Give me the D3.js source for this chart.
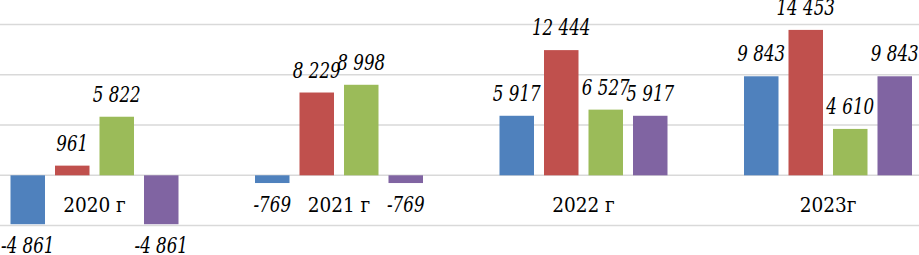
<!DOCTYPE html>
<html>
<head>
<meta charset="utf-8">
<script src="https://cdn.jsdelivr.net/npm/d3@7/dist/d3.min.js"></script>
</head>
<body style="margin:0;background:#fff">
<svg id="chart" width="919" height="255" style="display:block"></svg>
<script>
const categories = ["2020 г", "2021 г", "2022 г", "2023г"];
const seriesNames = ["s1", "s2", "s3", "s4"];
const seriesColors = ["#4f81bd", "#c0504d", "#9bbb59", "#8064a2"];
const s1 = [-4861, -769, 5917, 9843];
const s2 = [961, 8229, 12444, 14453];
const s3 = [5822, 8998, 6527, 4610];
const s4 = [-4861, -769, 5917, 9843];
const gridTicks = [-5000, 0, 5000, 10000, 15000];

const seriesValues = [s1, s2, s3, s4];
const FONT = '"DejaVu Serif"';
const fmt = v => {
  const s = d3.format(",")(Math.abs(v)).replace(/,/g, " ");
  return (v < 0 ? "-" : "") + s;
};

const svg = d3.select("#chart");
const W = 919;

const y = d3.scaleLinear().domain([-5000, 15000]).range([225.6, 24.4]);
const x0 = d3.scaleBand().domain(categories).range([-27.75, 950.25]).padding(0);
const x1 = d3.scaleBand().domain(seriesNames).range([38.25, 206.25]).paddingInner(0.2247).paddingOuter(0);

svg.append("g").selectAll("line").data(gridTicks).join("line")
  .attr("x1", 0).attr("x2", W)
  .attr("y1", d => y(d)).attr("y2", d => y(d))
  .attr("stroke", "#d9d9d9").attr("stroke-width", 1.5);

const data = [];
categories.forEach((c, i) => {
  seriesNames.forEach((s, j) => {
    data.push({cat: c, ser: s, v: seriesValues[j][i], color: seriesColors[j]});
  });
});

const g = svg.append("g");
g.selectAll("rect").data(data).join("rect")
  .attr("x", d => x0(d.cat) + x1(d.ser))
  .attr("width", x1.bandwidth())
  .attr("y", d => Math.min(y(d.v), y(0)))
  .attr("height", d => Math.abs(y(d.v) - y(0)))
  .attr("fill", d => d.color);

function squeeze(sel, k) {
  sel.each(function() {
    const len = this.getComputedTextLength();
    if (len > 0) {
      d3.select(this).attr("textLength", len * k).attr("lengthAdjust", "spacingAndGlyphs");
    }
  });
}

svg.append("g").selectAll("text").data(data).join("text")
  .attr("x", d => x0(d.cat) + x1(d.ser) + x1.bandwidth() / 2)
  .attr("y", d => d.v >= 0 ? y(d.v) - 15 : y(d.v) + 29)
  .attr("text-anchor", "middle")
  .style("font-family", FONT)
  .style("font-style", "italic")
  .style("font-size", "22px")
  .attr("fill", "#000")
  .text(d => fmt(d.v))
  .call(squeeze, 0.76);

svg.append("g").selectAll("text").data(categories).join("text")
  .attr("x", d => x0(d) + x0.bandwidth() / 2)
  .attr("y", 212)
  .attr("text-anchor", "middle")
  .style("font-family", FONT)
  .style("font-size", "21px")
  .attr("fill", "#000")
  .text(d => d)
  .call(squeeze, 0.88);
</script>
</body>
</html>
